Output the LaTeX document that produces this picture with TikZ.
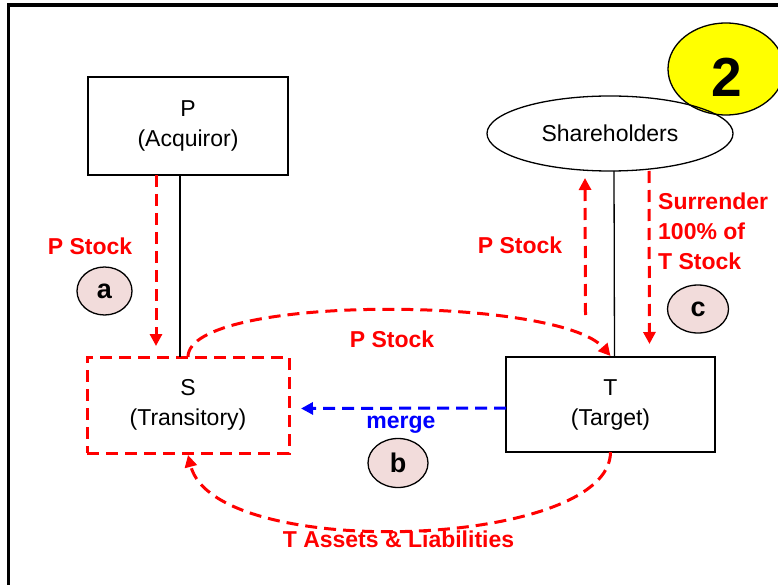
\documentclass[tikz,border=0pt]{standalone}
\usepackage{fontspec}
\setmainfont{Liberation Sans}
\usetikzlibrary{shapes.geometric,arrows.meta}
\definecolor{rd}{RGB}{255,0,0}
\definecolor{bl}{RGB}{0,0,255}
\definecolor{pinkfill}{RGB}{242,220,219}
\definecolor{yel}{RGB}{255,255,0}
\begin{document}
\begin{tikzpicture}[x=1pt,y=-1pt,
  entity/.style={draw=black, line width=1.3pt, inner sep=0pt, outer sep=0pt, align=center,
    font=\fontsize{23}{30}\selectfont},
  sbox/.style={draw=rd, line width=3pt, dash pattern=on 12pt off 7pt, inner sep=0pt, outer sep=0pt,
    align=center, font=\fontsize{23}{30}\selectfont},
  flow/.style={rd, line width=3pt, dash pattern=on 12pt off 7pt, -{Triangle[length=12pt,width=12pt]}},
  mergeflow/.style={flow, bl},
  tie/.style={draw=black, line width=1.3pt},
  lbl/.style={text=rd, font=\fontsize{23}{30}\selectfont\bfseries, inner sep=0pt},
  stepmark/.style={ellipse, draw=black, line width=1.3pt, fill=pinkfill, inner sep=0pt,
    font=\fontsize{27}{27}\selectfont\bfseries},
]
\useasboundingbox (0,0) rectangle (778,585);
\clip (0,0) rectangle (778,585);

% frame
\draw[line width=3.6pt] (8.4,590) -- (8.4,4.8) -- (790,4.8);

% yellow number badge
\node[ellipse, draw=black, line width=1.3pt, fill=yel, minimum width=116pt, minimum height=92pt, inner sep=0pt] (badge) at (726,69) {};
\node[font=\fontsize{55}{55}\selectfont\bfseries, inner sep=0pt] (badgetxt) at (727,77) {2};

% entities
\node[entity, minimum width=200pt, minimum height=98pt] (P) at (188,126) {P\\(Acquiror)};
\node[sbox, minimum width=202pt, minimum height=96pt] (S) at (188,405) {S\\(Transitory)};
\node[entity, minimum width=209pt, minimum height=95pt] (T) at (610.5,404.5) {T\\(Target)};
\node[entity, ellipse, minimum width=246pt, minimum height=75pt] (Sh) at (610,133.5) {Shareholders};

% ownership ties
\draw[tie] ([xshift=-8pt]P.south) -- ([xshift=-8pt]S.north);
\draw[tie] ([xshift=4pt]Sh.south) -- ([xshift=4pt]T.north);

% step a
\draw[flow, shorten >=11pt] ([xshift=-32pt]P.south) -- ([xshift=-32pt]S.north);
\node[lbl, anchor=base] (lpa) at (90,254) {P Stock};
\node[stepmark, minimum width=55pt, minimum height=48pt] (ma) at (104.5,291) {a};

% P stock S -> T
\draw[flow] (S.north) .. controls +(0,-63) and +(-52,-60) .. ([yshift=1pt]T.north);
\node[lbl, anchor=base] (lps) at (392,347) {P Stock};

% step b (merge)
\draw[mergeflow, shorten >=12pt] ([yshift=-3.5pt]T.west) -- ([yshift=-3.5pt]S.east);
\node[text=bl, font=\fontsize{23}{30}\selectfont\bfseries, inner sep=0pt, anchor=base] (lmerge) at (401,428) {merge};
\node[stepmark, minimum width=60pt, minimum height=49pt] (mb) at (398,463) {b};

% T assets back to S
\draw[flow] (T.south) .. controls +(0,97) and +(27,107) .. ([yshift=-2pt]S.south);
\node[lbl, anchor=base] (lassets) at (398.5,547) {T Assets \& Liabilities};

% step c
\draw[flow] ([xshift=-25pt,yshift=42pt]T.north) -- ([xshift=-25pt,yshift=-7pt]Sh.south);
\node[lbl, anchor=base] (lpsh) at (520,253) {P Stock};
\draw[flow, shorten >=13pt] ([xshift=39pt]Sh.south) -- ([xshift=39pt]T.north);
\node[lbl, anchor=north west, align=left] (lsur) at (658,193) {Surrender\\100\% of\\T Stock};
\node[stepmark, minimum width=61pt, minimum height=48pt] (mc) at (698,309) {c};
\end{tikzpicture}
\end{document}
